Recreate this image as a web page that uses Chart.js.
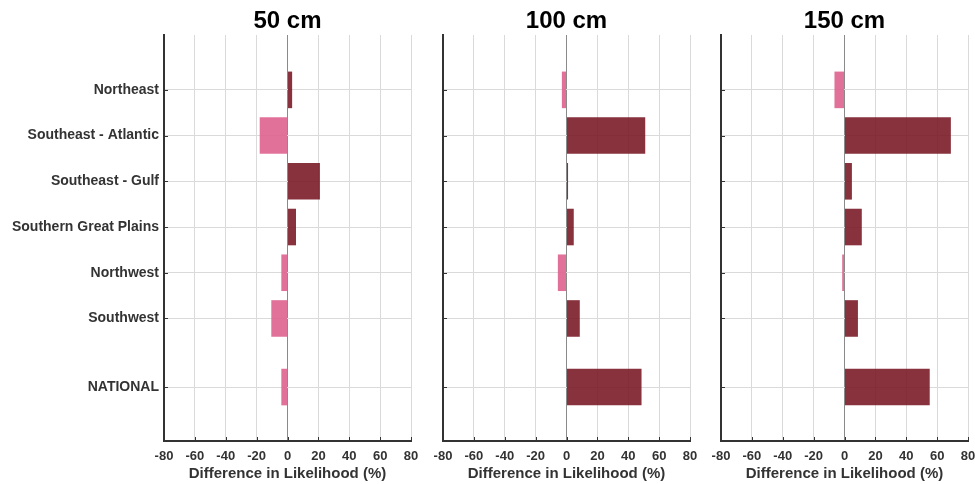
<!DOCTYPE html>
<html lang="en">
<head>
  <meta charset="UTF-8">
  <title>Difference in Likelihood by Region</title>
  <script src="https://cdn.jsdelivr.net/npm/chart.js"></script>
  <style>
    body { margin: 0; background: #fff; }
    .wrap { position: relative; width: 975px; height: 484px; }
    .panel { position: absolute; top: 0; }
  </style>
</head>
<body>
  <div class="wrap">
    <div class="panel" style="left:0"><canvas id="c50" width="420" height="484"></canvas></div>
    <div class="panel" style="left:420px"><canvas id="c100" width="280" height="484"></canvas></div>
    <div class="panel" style="left:700px"><canvas id="c150" width="275" height="484"></canvas></div>
  </div>

  <script>
    // regions, and where they sit on the vertical axis (gap before NATIONAL)
    const regions = ['Northeast', 'Southeast - Atlantic', 'Southeast - Gulf', 'Southern Great Plains', 'Northwest', 'Southwest', 'NATIONAL'];
    const regionPos = [1, 2, 3, 4, 5, 6, 7.5];

    const depths = ['50 cm', '100 cm', '150 cm'];
    const diff50 = [3, -18, 21, 5.5, -4, -10.5, -4];
    const diff100 = [-3, 51, 1, 4.7, -5.6, 8.6, 48.6];
    const diff150 = [-6.5, 68.9, 4.8, 11.2, -1.5, 8.7, 55.2];

    const xTicks = [-80, -60, -40, -20, 0, 20, 40, 60, 80];
    const xLabel = 'Difference in Likelihood (%)';

    const posColor = 'rgba(118, 22, 34, 0.88)';
    const negColor = 'rgba(222, 98, 142, 0.9)';
    const fontFamily = 'Liberation Sans, Arial, sans-serif';

    // short tick marks pointing into the plot
    const innerTicks = {
      id: 'innerTicks',
      afterDraw(chart) {
        const { ctx, chartArea, scales } = chart;
        ctx.save();
        ctx.strokeStyle = '#333';
        ctx.lineWidth = 1;
        ctx.beginPath();
        scales.x.ticks.forEach(t => {
          const px = Math.round(scales.x.getPixelForValue(t.value)) + 0.5;
          ctx.moveTo(px, chartArea.bottom);
          ctx.lineTo(px, chartArea.bottom - 4);
        });
        scales.y.ticks.forEach(t => {
          const py = Math.round(scales.y.getPixelForValue(t.value)) + 0.5;
          ctx.moveTo(chartArea.left, py);
          ctx.lineTo(chartArea.left + 4, py);
        });
        ctx.stroke();
        ctx.restore();
      }
    };

    function makePanel(id, title, values, axisWidth, rightPad, showNames) {
      const ctx = document.getElementById(id).getContext('2d');
      return new Chart(ctx, {
        type: 'bar',
        data: {
          datasets: [{
            data: values.map((v, i) => ({ x: v, y: regionPos[i] })),
            backgroundColor: c => (c.raw && c.raw.x < 0 ? negColor : posColor),
            borderWidth: 0,
            categoryPercentage: 0.8,
            barPercentage: 1
          }]
        },
        options: {
          indexAxis: 'y',
          responsive: false,
          animation: false,
          layout: { padding: { left: 0, right: rightPad, top: 0, bottom: 0 } },
          plugins: {
            legend: { display: false },
            tooltip: { enabled: false },
            title: {
              display: true,
              text: title,
              fullSize: false,
              color: '#000',
              font: { family: fontFamily, size: 24, weight: 'bold', lineHeight: 1 },
              padding: { top: 9.7, bottom: 1.3 }
            }
          },
          scales: {
            x: {
              type: 'linear',
              min: -80,
              max: 80,
              afterBuildTicks: s => { s.ticks = xTicks.map(v => ({ value: v })); },
              afterFit: s => {
                s.height = 43;
                s.paddingLeft = 0;
                s.paddingRight = 0;
              },
              grid: {
                color: c => (c.tick && c.tick.value === 0 ? '#8a8a8a' : '#dadada'),
                lineWidth: 1,
                drawTicks: false
              },
              border: { display: true, color: '#333', width: 2 },
              ticks: {
                padding: 8,
                color: '#333',
                maxRotation: 0,
                font: { family: fontFamily, size: 13, weight: 'bold' }
              },
              title: {
                display: true,
                text: xLabel,
                color: '#333',
                font: { family: fontFamily, size: 15, weight: 'bold' },
                padding: { top: 0, bottom: 1.5 }
              }
            },
            y: {
              type: 'linear',
              reverse: true,
              min: -0.2,
              max: 8.68,
              offset: false,
              afterBuildTicks: s => { s.ticks = regionPos.map(v => ({ value: v })); },
              afterFit: s => { s.width = axisWidth; },
              grid: { color: '#dadada', lineWidth: 1, drawTicks: false, offset: false },
              border: { display: true, color: '#333', width: 2 },
              ticks: {
                display: showNames,
                padding: 5,
                color: '#333',
                font: { family: fontFamily, size: 14, weight: 'bold' },
                callback: v => regions[regionPos.indexOf(v)]
              }
            }
          }
        },
        plugins: [innerTicks]
      });
    }

    makePanel('c50', depths[0], diff50, 164, 9, true);
    makePanel('c100', depths[1], diff100, 23, 10, false);
    makePanel('c150', depths[2], diff150, 21, 7, false);
  </script>
</body>
</html>
